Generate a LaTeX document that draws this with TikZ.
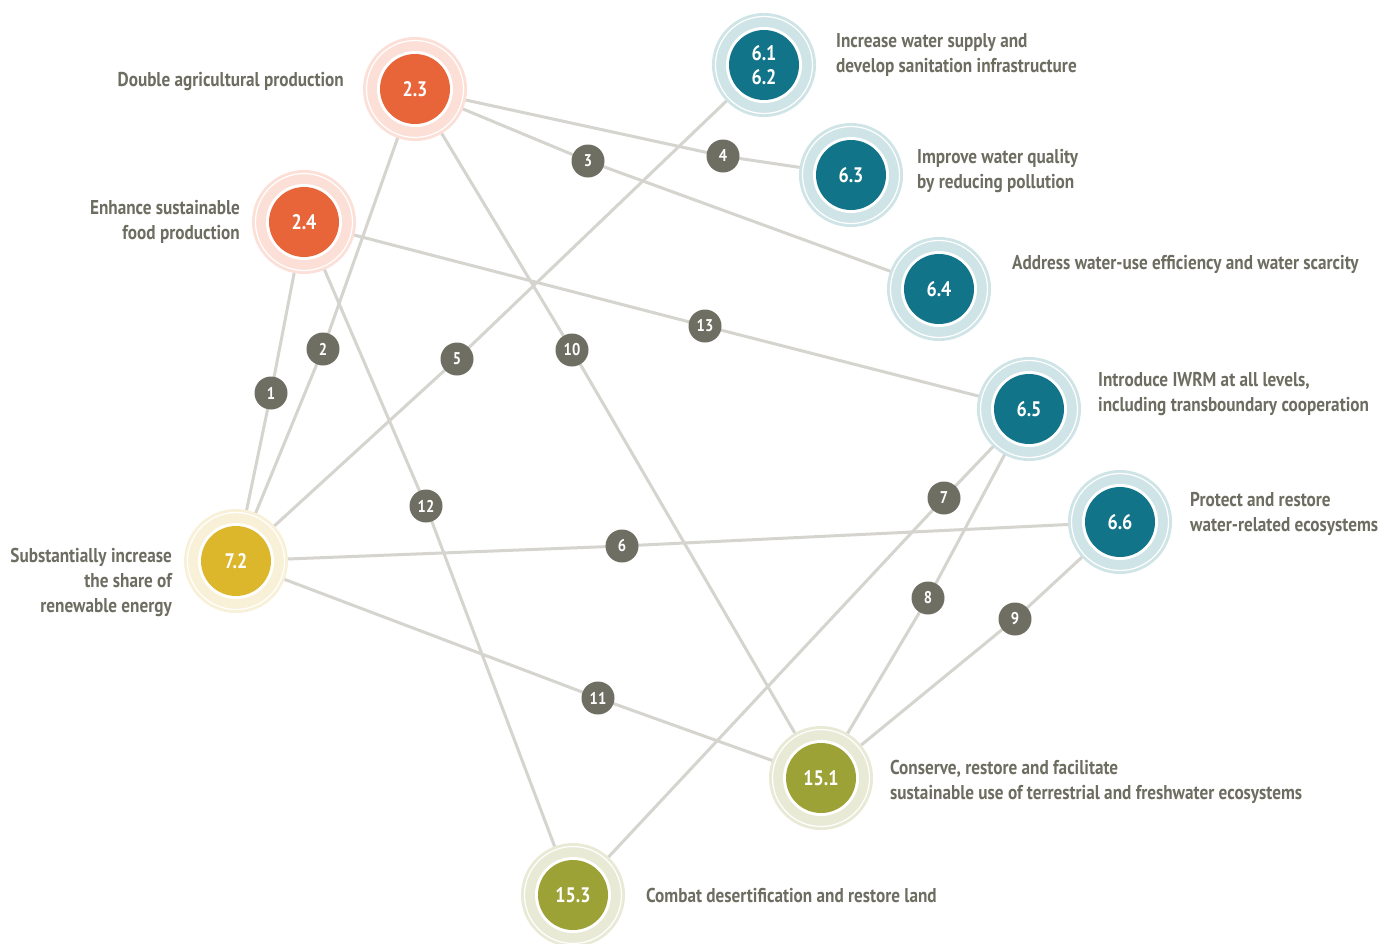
\documentclass[tikz,border=0pt]{standalone}
\usepackage{fontspec}
\setmainfont{PT Sans}[FakeStretch=0.86]
\usetikzlibrary{backgrounds}
\definecolor{orin}{HTML}{E8653A}
\definecolor{orpa}{HTML}{FCE0D8}
\definecolor{tein}{HTML}{127489}
\definecolor{tepa}{HTML}{CFE4E7}
\definecolor{yein}{HTML}{DCB72B}
\definecolor{yepa}{HTML}{F8F1D7}
\definecolor{olin}{HTML}{9DA236}
\definecolor{olpa}{HTML}{E9EAD6}
\definecolor{numc}{HTML}{6F6E62}
\definecolor{linec}{HTML}{D5D4CF}
\definecolor{txtc}{HTML}{6E6D61}
\tikzset{
  goal/.style 2 args={circle, minimum size=104pt, inner sep=0pt, fill=#2, text=white,
    font=\fontsize{21}{25}\selectfont\bfseries, align=center,
    path picture={
      \draw[white, line width=1.2pt] (path picture bounding box.center) circle[radius=48.5pt];
      \fill[white] (path picture bounding box.center) circle[radius=38pt];
      \fill[#1] (path picture bounding box.center) circle[radius=35pt];
    }},
  numdot/.style={circle, minimum size=33pt, inner sep=0pt, fill=numc, text=white,
    font=\fontsize{17}{17}\selectfont\bfseries},
  edge/.style={draw=linec, line width=3pt},
  txt/.style={inner sep=0pt, text=txtc, font=\fontsize{20}{25}\selectfont\bfseries},
  txtl/.style={txt, anchor=west, align=left},
  txtr/.style={txt, anchor=east, align=right}
}
\begin{document}
\begin{tikzpicture}[x=1pt,y=-1pt]
\useasboundingbox (0,0) rectangle (1395,943);
% goal nodes
\node[goal={orin}{orpa}] (n23) at (415,89) {2.3};
\node[goal={orin}{orpa}] (n24) at (304,222) {2.4};
\node[goal={tein}{tepa}] (n61) at (764,65) {6.1\\[-1pt]6.2};
\node[goal={tein}{tepa}] (n63) at (851,175) {6.3};
\node[goal={tein}{tepa}] (n64) at (939,289) {6.4};
\node[goal={tein}{tepa}] (n65) at (1029,409) {6.5};
\node[goal={tein}{tepa}] (n66) at (1120,522) {6.6};
\node[goal={yein}{yepa}] (n72) at (236,561) {7.2};
\node[goal={olin}{olpa}] (n151) at (821,778) {15.1};
\node[goal={olin}{olpa}] (n153) at (573,895) {15.3};
% number dots
\node[numdot] (l1) at (271,393) {1};
\node[numdot] (l2) at (323,349) {2};
\node[numdot] (l3) at (588,161) {3};
\node[numdot] (l4) at (723,156) {4};
\node[numdot] (l5) at (457,359) {5};
\node[numdot] (l6) at (622,546) {6};
\node[numdot] (l7) at (944,498) {7};
\node[numdot] (l8) at (928,598) {8};
\node[numdot] (l9) at (1015,619) {9};
\node[numdot] (l10) at (572,350) {10};
\node[numdot] (l11) at (598,698) {11};
\node[numdot] (l12) at (426,506) {12};
\node[numdot] (l13) at (705,326) {13};
% texts
\node[txtr] (t23) at (344,82) {Double agricultural production};
\node[txtr] (t24) at (240,222) {Enhance sustainable\\food production};
\node[txtl] (t61) at (836,55) {Increase water supply and\\develop sanitation infrastructure};
\node[txtl] (t63) at (917,171) {Improve water quality\\by reducing pollution};
\node[txtl] (t64) at (1012,264) {Address water-use efficiency and water scarcity};
\node[txtl] (t65) at (1098,394) {Introduce IWRM at all levels,\\including transboundary cooperation};
\node[txtl] (t66) at (1190,514) {Protect and restore\\water-related ecosystems};
\node[txtr] (t72) at (172,582) {Substantially increase\\the share of\\renewable energy};
\node[txtl] (t151) at (890,782) {Conserve, restore and facilitate\\sustainable use of terrestrial and freshwater ecosystems};
\node[txtl] (t153) at (646,895) {Combat desertification and restore land};
% connectors
\begin{scope}[on background layer]
\fill[white] (0,0) rectangle (1395,943);
\draw[edge] (n24.center) -- (l1.center) -- (n72.center);
\draw[edge] (n23.center) -- (l2.center) -- (n72.center);
\draw[edge] (n23.center) -- (l3.center) -- (n64.center);
\draw[edge] (n23.center) -- (l4.center) -- (n63.center);
\draw[edge] (n72.center) -- (l5.center) -- (n61.center);
\draw[edge] (n72.center) -- (l6.center) -- (n66.center);
\draw[edge] (n65.center) -- (l7.center) -- (n153.center);
\draw[edge] (n65.center) -- (l8.center) -- (n151.center);
\draw[edge] (n66.center) -- (l9.center) -- (n151.center);
\draw[edge] (n23.center) -- (l10.center) -- (n151.center);
\draw[edge] (n72.center) -- (l11.center) -- (n151.center);
\draw[edge] (n24.center) -- (l12.center) -- (n153.center);
\draw[edge] (n24.center) -- (l13.center) -- (n65.center);
\end{scope}
\end{tikzpicture}
\end{document}
